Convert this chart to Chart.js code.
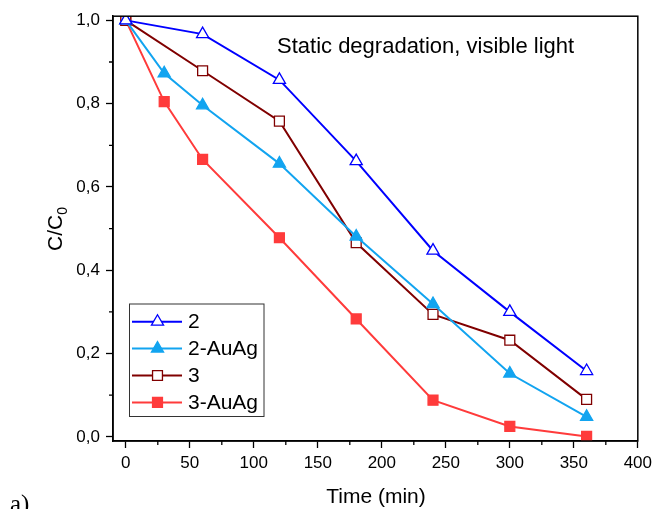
<!DOCTYPE html>
<html>
<head>
<meta charset="utf-8">
<script src="https://cdn.jsdelivr.net/npm/chart.js@4.4.1/dist/chart.umd.min.js"></script>
<style>
  html, body { margin: 0; padding: 0; background: #fff; }
  #wrap { width: 657px; height: 509px; }
</style>
</head>
<body>
<div id="wrap"><canvas id="degradationChart" width="657" height="509"></canvas></div>
<script>
// Данные
const seriesNames = ['2', '2-AuAg', '3', '3-AuAg'];
const timeShort = [0, 60, 120, 180, 240, 300, 360];
const timeLong = [0, 30, 60, 120, 180, 240, 300, 360];
const values2 = [1.0, 0.967, 0.857, 0.662, 0.447, 0.300, 0.158];
const values2AuAg = [1.0, 0.873, 0.796, 0.656, 0.481, 0.319, 0.152, 0.048];
const values3 = [1.0, 0.879, 0.758, 0.466, 0.294, 0.232, 0.090];
const values3AuAg = [1.0, 0.805, 0.666, 0.478, 0.283, 0.088, 0.025, 0.001];
const xMajorTicks = [0, 50, 100, 150, 200, 250, 300, 350, 400];
const xMinorTicks = [25, 75, 125, 175, 225, 275, 325, 375];
const yMajorTicks = [0, 0.2, 0.4, 0.6, 0.8, 1.0];
const yMinorTicks = [0.1, 0.3, 0.5, 0.7, 0.9];

const FONT = 'Liberation Sans, Arial, sans-serif';

function toPoints(xs, ys) {
    return xs.map((x, i) => ({ x: x, y: ys[i] }));
}

function makeSet(label, xs, ys, color, style, filled) {
    return {
        label: label,
        data: toPoints(xs, ys),
        showLine: true,
        borderColor: color,
        borderWidth: 2,
        pointStyle: style,
        pointRadius: 7,
        pointHoverRadius: 7,
        pointBorderWidth: 1.3,
        pointBorderColor: color,
        pointBackgroundColor: filled ? color : '#ffffff',
        tension: 0
    };
}

// Маркер для легенды
function drawMarker(ctx, style, x, y, r, color, filled) {
    ctx.save();
    ctx.beginPath();
    if (style === 'triangle') {
        ctx.moveTo(x, y - r);
        ctx.lineTo(x + r * 0.866, y + r * 0.5);
        ctx.lineTo(x - r * 0.866, y + r * 0.5);
        ctx.closePath();
    } else {
        const s = r * Math.SQRT1_2;
        ctx.rect(x - s, y - s, 2 * s, 2 * s);
    }
    ctx.fillStyle = filled ? color : '#ffffff';
    ctx.fill();
    ctx.lineWidth = 1.3;
    ctx.strokeStyle = color;
    ctx.stroke();
    ctx.restore();
}

const decorPlugin = {
    id: 'decor',
    afterDraw(chart) {
        const ctx = chart.ctx;
        const area = chart.chartArea;
        const xs = chart.scales.x;
        const ys = chart.scales.y;

        ctx.save();
        // Рамка
        ctx.strokeStyle = '#000';
        ctx.lineWidth = 1.5;
        ctx.strokeRect(area.left, area.top, area.right - area.left, area.bottom - area.top);

        // Малые деления
        ctx.lineWidth = 1.3;
        ctx.beginPath();
        xMinorTicks.forEach(v => {
            const px = xs.getPixelForValue(v);
            ctx.moveTo(px, area.bottom);
            ctx.lineTo(px, area.bottom + 4);
        });
        yMinorTicks.forEach(v => {
            const py = ys.getPixelForValue(v);
            ctx.moveTo(area.left, py);
            ctx.lineTo(area.left - 4, py);
        });
        ctx.stroke();

        // Подпись внутри графика
        ctx.fillStyle = '#000';
        ctx.font = '22px ' + FONT;
        ctx.textAlign = 'left';
        ctx.textBaseline = 'alphabetic';
        ctx.fillText('Static degradation, visible light', 277, 53);

        // Заголовок оси X
        ctx.font = '21px ' + FONT;
        ctx.textAlign = 'center';
        ctx.fillText('Time (min)', 376, 503);

        // Метка панели
        ctx.textAlign = 'left';
        ctx.font = '25px Liberation Serif, Times New Roman, serif';
        ctx.fillText('a)', 10, 512);

        // Заголовок оси Y: C/C0 с нижним индексом
        ctx.save();
        ctx.translate(62, 251);
        ctx.rotate(-Math.PI / 2);
        ctx.font = '21px ' + FONT;
        ctx.textAlign = 'left';
        ctx.fillText('C/C', 0, 0);
        const w = ctx.measureText('C/C').width;
        ctx.font = '14px ' + FONT;
        ctx.fillText('0', w, 5);
        ctx.restore();

        // Легенда
        const lx = 129.5, ly = 304, lw = 134.5, lh = 112.5;
        ctx.fillStyle = '#fff';
        ctx.fillRect(lx, ly, lw, lh);
        ctx.strokeStyle = '#333';
        ctx.lineWidth = 1;
        ctx.strokeRect(lx, ly, lw, lh);
        chart.data.datasets.forEach((ds, i) => {
            const cy = 321.7 + i * 26.9;
            ctx.strokeStyle = ds.borderColor;
            ctx.lineWidth = 2;
            ctx.beginPath();
            ctx.moveTo(132, cy);
            ctx.lineTo(182, cy);
            ctx.stroke();
            drawMarker(ctx, ds.pointStyle, 157.5, cy, 7, ds.borderColor,
                ds.pointBackgroundColor !== '#ffffff');
            ctx.fillStyle = '#000';
            ctx.font = '21px ' + FONT;
            ctx.textAlign = 'left';
            ctx.textBaseline = 'middle';
            ctx.fillText(ds.label, 188, cy + 1);
        });
        ctx.restore();
    }
};

const ctx = document.getElementById('degradationChart');
new Chart(ctx, {
    type: 'scatter',
    data: {
        datasets: [
            makeSet(seriesNames[0], timeShort, values2, '#0000ff', 'triangle', false),
            makeSet(seriesNames[1], timeLong, values2AuAg, '#12a4f0', 'triangle', true),
            makeSet(seriesNames[2], timeShort, values3, '#800000', 'rect', false),
            makeSet(seriesNames[3], timeLong, values3AuAg, '#ff3b3b', 'rect', true)
        ]
    },
    options: {
        responsive: false,
        animation: false,
        layout: { padding: { top: 15, right: 17, left: 0, bottom: 0 } },
        plugins: {
            legend: { display: false },
            tooltip: { enabled: false }
        },
        scales: {
            x: {
                type: 'linear',
                min: -10,
                max: 400,
                afterBuildTicks: s => { s.ticks = xMajorTicks.map(v => ({ value: v })); },
                afterFit: s => { s.height = 68; },
                grid: { drawOnChartArea: false, drawTicks: true, tickLength: 7, tickColor: '#000', tickWidth: 1.3 },
                border: { display: true, color: '#000', width: 1.5 },
                ticks: {
                    color: '#000',
                    font: { family: FONT, size: 17 },
                    padding: 5,
                    maxRotation: 0,
                    callback: v => String(v)
                }
            },
            y: {
                type: 'linear',
                min: -0.01,
                max: 1.01,
                afterBuildTicks: s => { s.ticks = yMajorTicks.map(v => ({ value: v })); },
                afterFit: s => { s.width = 113; },
                grid: { drawOnChartArea: false, drawTicks: true, tickLength: 7, tickColor: '#000', tickWidth: 1.3 },
                border: { display: true, color: '#000', width: 1.5 },
                ticks: {
                    color: '#000',
                    font: { family: FONT, size: 17 },
                    padding: 6,
                    callback: v => v.toFixed(1).replace('.', ',')
                }
            }
        }
    },
    plugins: [decorPlugin]
});
</script>
</body>
</html>
